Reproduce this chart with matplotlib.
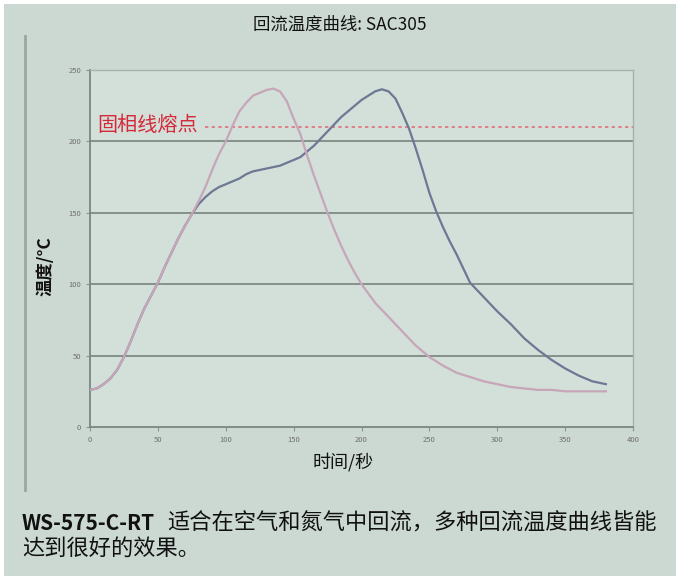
import matplotlib.pyplot as plt
from matplotlib.patches import Rectangle
from matplotlib.lines import Line2D

plt.rcParams['font.family'] = ['Noto Sans CJK SC', 'DejaVu Sans']

# profile 1 (earlier peak)
t_a = [0, 5, 10, 15, 20, 25, 30, 35, 40, 45, 50, 55, 60, 65, 70, 75, 80, 85, 90, 95,
       100, 105, 110, 115, 120, 125, 130, 135, 140, 145, 150, 155, 160, 165, 170, 175,
       180, 185, 190, 195, 200, 210, 220, 230, 240, 250, 260, 270, 280, 290, 300, 310,
       320, 330, 340, 350, 360, 370, 380]
v_a = [26, 27, 30, 34, 40, 49, 60, 72, 83, 92, 101, 112, 122, 132, 141, 149, 158, 168, 180, 191,
       200, 211, 221, 227, 232, 234, 236, 237, 235, 228, 216, 205, 190, 176, 163, 150,
       138, 127, 117, 108, 100, 87, 77, 67, 57, 49, 43, 38, 35, 32, 30, 28,
       27, 26, 26, 25, 25, 25, 25]

# profile 2 (later peak)
t_b = [0, 5, 10, 15, 20, 25, 30, 35, 40, 45, 50, 55, 60, 65, 70, 75, 80, 85, 90, 95,
       100, 105, 110, 115, 120, 125, 130, 135, 140, 145, 150, 155, 160, 165, 170, 175,
       180, 185, 190, 195, 200, 205, 210, 215, 220, 225, 230, 235, 240, 245, 250, 255,
       260, 265, 270, 275, 280, 290, 300, 310, 320, 330, 340, 350, 360, 370, 380]
v_b = [26, 27, 30, 34, 40, 49, 60, 72, 83, 92, 101, 112, 122, 132, 141, 149, 156, 161, 165, 168,
       170, 172, 174, 177, 179, 180, 181, 182, 183, 185, 187, 189, 193, 197, 202, 207,
       212, 217, 221, 225, 229, 232, 235, 236.5, 235, 230, 220, 209, 195, 180, 164, 151,
       140, 130, 121, 111, 101, 91, 81, 72, 62, 54, 47, 41, 36, 32, 30]

solidus = 210
x_ticks = [0, 50, 100, 150, 200, 250, 300, 350, 400]
y_ticks = [0, 50, 100, 150, 200, 250]

bg = '#cbd9d2'
W, H = 676, 576
fig = plt.figure(figsize=(W / 100, H / 100), dpi=100, facecolor='white')
fig.add_artist(Rectangle((4 / W, 0), 1 - 4 / W, 1 - 4 / H, transform=fig.transFigure,
                         facecolor=bg, edgecolor='none', zorder=-10))
fig.add_artist(Line2D([24.5 / W, 24.5 / W], [1 - 36 / H, 1 - 490 / H],
                      transform=fig.transFigure, color='#9aa6a0', lw=2))

ax = fig.add_axes([90 / W, 1 - 427 / H, 543 / W, 357 / H])
ax.set_facecolor('#d3dfd9')
ax.set_xlim(0, 400)
ax.set_ylim(0, 250)

for y in y_ticks[1:-1]:
    ax.axhline(y, color='#7f8a85', lw=1.3, zorder=1)

ax.plot(t_b, v_b, color='#6c7894', lw=1.6, zorder=3)
ax.plot(t_a, v_a, color='#c6a6b8', lw=1.6, zorder=4)

ax.plot([85, 400], [solidus, solidus], color='#e0707a', lw=1.2,
        linestyle=(0, (2, 2)), zorder=2)
ax.text(5, solidus + 1, '固相线熔点', color='#d42a3a', fontsize=14.5,
        va='center', ha='left')

ax.set_xticks(x_ticks)
ax.set_yticks(y_ticks)
ax.tick_params(labelsize=5.5, labelcolor='#6f6f6f', color='#8a948f', length=3, width=0.8)
for s in ['left', 'bottom']:
    ax.spines[s].set_color('#7c8681')
    ax.spines[s].set_linewidth(1.3)
for s in ['top', 'right']:
    ax.spines[s].set_color('#a9b3ae')
    ax.spines[s].set_linewidth(1.0)

fig.text(340 / W, 1 - 25 / H, '回流温度曲线: SAC305', fontsize=12.5,
         ha='center', va='center', color='#111111')
fig.text(46 / W, 1 - 266 / H, '温度/°C', fontsize=12.5, rotation=90,
         ha='center', va='center', color='#111111', fontweight='bold')
fig.text(343 / W, 1 - 462 / H, '时间/秒', fontsize=13,
         ha='center', va='center', color='#111111')

fig.text(22 / W, 1 - 523 / H, 'WS-575-C-RT', fontsize=15, fontweight='bold',
         ha='left', va='center', color='#111111')
fig.text(167 / W, 1 - 523 / H, '适合在空气和氮气中回流，多种回流温度曲线皆能',
         fontsize=16, ha='left', va='center', color='#111111')
fig.text(22 / W, 1 - 548 / H, '达到很好的效果。', fontsize=16,
         ha='left', va='center', color='#111111')

fig.savefig('out.png', dpi=100, facecolor=fig.get_facecolor())
